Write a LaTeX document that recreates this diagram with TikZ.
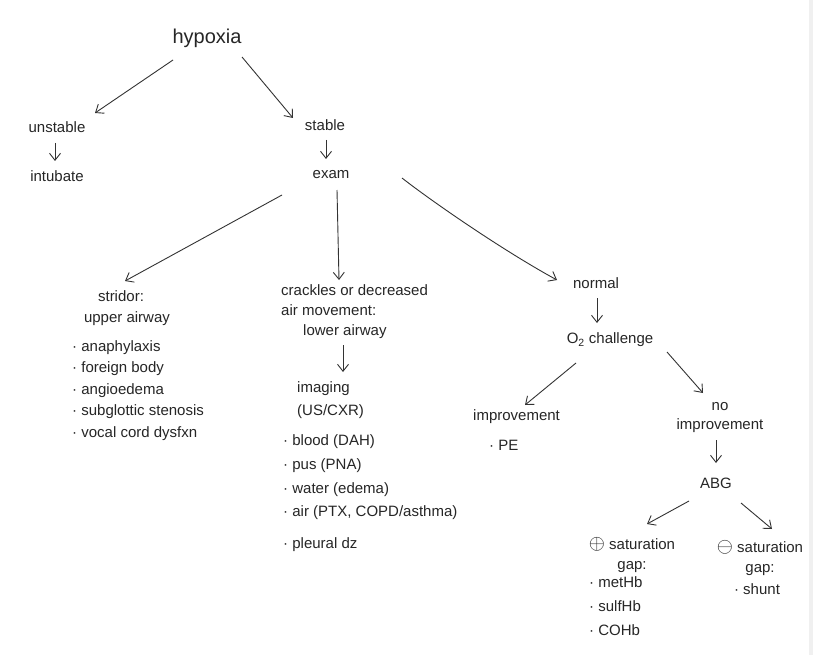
\documentclass[tikz,border=0pt]{standalone}
\usepackage{fontspec}
\setmainfont{Liberation Sans}
\usetikzlibrary{arrows.meta,calc}
\begin{document}
\begin{tikzpicture}[x=1pt,y=-1pt,
  every node/.style={inner sep=0pt, font=\fontsize{15}{22}\selectfont, text=black!85},
  big/.style={font=\fontsize{20}{24}\selectfont},
  conn/.style={draw=black!80, line width=0.9pt, -{Straight Barb[length=7pt,width=11pt]}},
]
\useasboundingbox[fill=white] (0,0) rectangle (813,655);
\fill[black!6] (809,0) rectangle (813,655);

% nodes
\node[big] (hyp) at (207,38) {hypoxia};
\node (unst) at (57,127) {unstable};
\node (intub) at (57,176) {intubate};
\node (stable) at (325,125) {stable};
\node (exam) at (331,175) {exam};

\node (str) at (121,296) {stridor:};
\node (upper) at (127,319) {upper airway};
\node[anchor=north west, align=left, font=\fontsize{15}{21.5}\selectfont] (ulist) at (72,340)
  {· anaphylaxis\\· foreign body\\· angioedema\\· subglottic stenosis\\· vocal cord dysfxn};

\node[anchor=north west, align=left, font=\fontsize{15}{20}\selectfont] (crack) at (281,284)
  {crackles or decreased\\air movement:\\\hspace{22pt}lower airway};
\node[anchor=north west, align=left, font=\fontsize{15}{23}\selectfont] (imag) at (297,381) {imaging\\(US/CXR)};
\node[anchor=north west, align=left, font=\fontsize{15}{24}\selectfont] (llist) at (283,434)
  {· blood (DAH)\\· pus (PNA)\\· water (edema)\\[-1pt]· air (PTX, COPD/asthma)\\[8pt]· pleural dz};

\node (normal) at (596,283) {normal};
\node (o2) at (610,340) {O\textsubscript{2} challenge};
\node[anchor=north west, align=left, font=\fontsize{15}{30}\selectfont] (impr) at (473,409) {improvement\\\hspace{16pt}· PE};
\node[align=center] (noimp) at (720,418) {no\\[-3pt]improvement};
\node (abg) at (716,483) {ABG};

\node[align=center] (pos) at (632,555) {{\fontsize{20}{20}\selectfont$\oplus$} saturation\\[-2pt]gap:};
\node[anchor=north west, align=left, font=\fontsize{15}{24}\selectfont] (plist) at (589,576)
  {· metHb\\· sulfHb\\· COHb};
\node[align=center] (neg) at (760,558) {{\fontsize{20}{20}\selectfont$\ominus$} saturation\\[-2pt]gap:};
\node (shunt) at (757,589) {· shunt};

% connectors
\draw[conn] ($(hyp)+(-34,22)$) -- ($(unst)+(38,-14)$);
\draw[conn] ($(hyp)+(35,19)$) -- ($(stable)+(-32,-7)$);
\draw[conn] ($(unst)+(-2,16)$) -- ($(intub)+(-2,-15)$);
\draw[conn] ($(stable)+(1,15)$) -- ($(exam)+(-5,-16)$);
\draw[conn] ($(exam)+(-49,20)$) -- ($(str)+(4,-15)$);
\draw[conn] ($(exam)+(6,15)$) -- ($(crack.north west)+(58,-4)$);
\draw[conn] ($(exam)+(71,3)$) .. controls ($(exam)+(99,25)$) and ($(normal)+(-94,-33)$) .. ($(normal)+(-39,-3)$);
\draw[conn] ($(crack.north west)+(62,61)$) -- ($(imag.north west)+(46,-9)$);
\draw[conn] ($(normal)+(1,15)$) -- ($(o2)+(-13,-17)$);
\draw[conn] ($(o2)+(-34,23)$) -- ($(impr.north west)+(52,-4)$);
\draw[conn] ($(o2)+(57,12)$) -- ($(noimp)+(-17,-25)$);
\draw[conn] ($(noimp)+(-4,22)$) -- ($(abg)+(0,-20)$);
\draw[conn] ($(abg)+(-27,18)$) -- ($(pos)+(15,-31)$);
\draw[conn] ($(abg)+(25,20)$) -- ($(neg)+(12,-29)$);
\end{tikzpicture}
\end{document}
